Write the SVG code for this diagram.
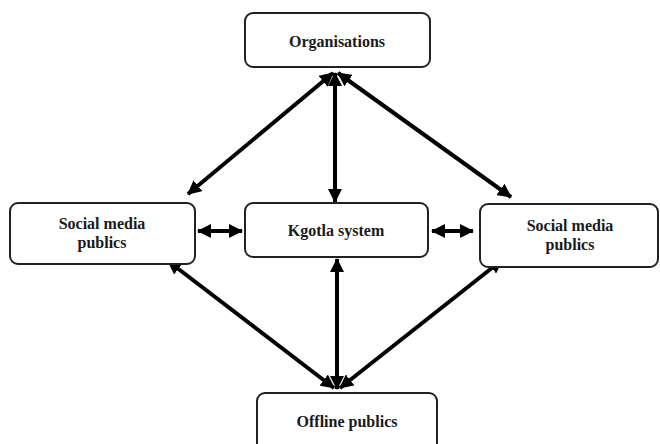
<svg xmlns="http://www.w3.org/2000/svg" width="660" height="444" viewBox="0 0 660 444">
<style>
.box{fill:#fff;stroke:#222;stroke-width:2}
.t{font-family:"Liberation Serif",serif;font-weight:bold;font-size:16px;fill:#1a1a1a;text-anchor:middle}
.c{stroke:#000;stroke-width:4;fill:none;marker-start:url(#ah);marker-end:url(#ah)}
</style>
<defs>
<marker id="ah" markerUnits="userSpaceOnUse" viewBox="0 0 14 14" refX="13" refY="7" markerWidth="14" markerHeight="14" orient="auto-start-reverse">
<path d="M0,0 L14,7 L0,14 Z" fill="#000"/>
</marker>
</defs>
<g id="connectors">
<line class="c" x1="333" y1="73" x2="188" y2="194"/>
<line class="c" x1="335" y1="73" x2="335" y2="202"/>
<line class="c" x1="338" y1="73" x2="511" y2="197"/>
<line class="c" x1="198" y1="231" x2="242" y2="231"/>
<line class="c" x1="432" y1="231" x2="473" y2="231"/>
<line class="c" x1="168" y1="261" x2="334" y2="388"/>
<line class="c" x1="337" y1="259" x2="337" y2="389"/>
<line class="c" x1="502" y1="260" x2="340" y2="388"/>
</g>
<g id="organisations">
<rect class="box" x="245" y="13" width="185" height="54" rx="8"/>
<text class="t" x="337" y="47">Organisations</text>
</g>
<g id="social-left">
<rect class="box" x="10" y="203" width="185" height="61" rx="8"/>
<text class="t" x="102" y="229">Social media</text>
<text class="t" x="102" y="248">publics</text>
</g>
<g id="kgotla">
<rect class="box" x="245" y="203" width="183" height="54" rx="8"/>
<text class="t" x="336" y="236">Kgotla system</text>
</g>
<g id="social-right">
<rect class="box" x="480" y="204" width="178" height="63" rx="8"/>
<text class="t" x="570" y="231">Social media</text>
<text class="t" x="570" y="250">publics</text>
</g>
<g id="offline">
<rect class="box" x="257" y="393" width="180" height="60" rx="8"/>
<text class="t" x="347" y="427">Offline publics</text>
</g>
</svg>
